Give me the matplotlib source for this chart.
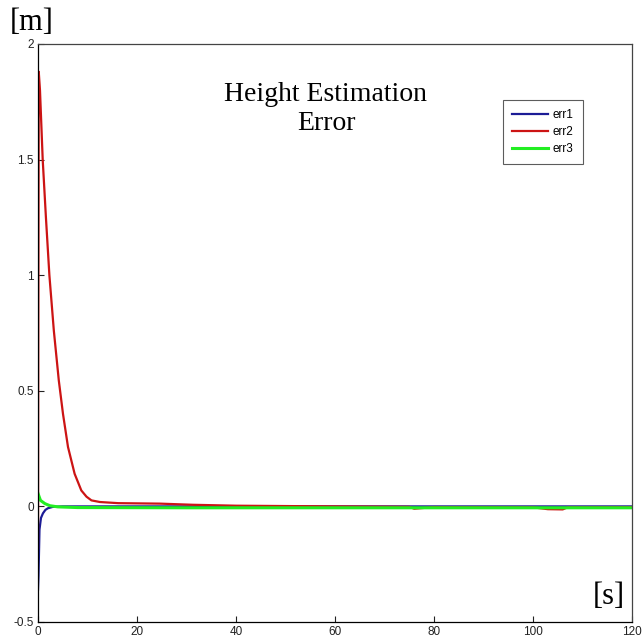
import matplotlib
matplotlib.use("Agg")
import matplotlib.pyplot as plt

# err1 (blue): starts negative, settles within a few seconds
t1 = [0.0, 0.1, 0.3, 0.6, 1.0, 1.5, 2.0, 3.0, 5.0, 20.0, 60.0, 120.0]
err1 = [-0.36, -0.30, -0.10, -0.05, -0.03, -0.015, -0.008, -0.002, 0.0, 0.0, 0.0, 0.0]

# err2 (red): jumps to ~1.9 then decays
t2 = [0.0, 0.05, 0.15, 0.4, 0.95, 1.6, 2.3, 3.2, 4.2, 5.05, 6.06, 7.4,
      8.75, 9.8, 10.8, 12.5, 16.2, 24.6, 31.3, 40.0, 60.0, 75.0, 76.0,
      80.0, 100.0, 103.0, 106.0, 107.0, 120.0]
err2 = [-0.18, 0.68, 1.88, 1.80, 1.50, 1.25, 1.00, 0.76, 0.545, 0.40, 0.257, 0.141,
        0.069, 0.042, 0.026, 0.019, 0.014, 0.012, 0.007, 0.003, 0.0, -0.002, -0.01,
        -0.003, -0.004, -0.012, -0.013, -0.004, -0.003]

# err3 (green): small positive start, settles slightly below zero
t3 = [0.0, 0.5, 1.4, 2.4, 4.0, 8.0, 30.0, 60.0, 90.0, 120.0]
err3 = [0.056, 0.026, 0.012, 0.003, -0.002, -0.005, -0.006, -0.006, -0.006, -0.006]

plt.rcParams['font.family'] = ['Liberation Sans', 'DejaVu Sans']

fig = plt.figure(figsize=(6.42, 6.39), dpi=100)
ax = fig.add_axes([38 / 642, 17 / 639, 594 / 642, 578 / 639])

ax.plot(t1, err1, color='#1c1c96', lw=1.6, label='err1')
ax.plot(t2, err2, color='#cc1414', lw=1.6, label='err2')
ax.plot(t3, err3, color='#22ee22', lw=2.2, label='err3')

ax.set_xlim(0, 120)
ax.set_ylim(-0.5, 2)
ax.set_xticks([0, 20, 40, 60, 80, 100, 120])
ax.set_yticks([-0.5, 0, 0.5, 1, 1.5, 2])
ax.set_yticklabels(['-0.5', '0', '0.5', '1', '1.5', '2'])
ax.tick_params(direction='in', length=4, width=0.8, labelsize=8.5,
               colors='#222222', pad=3)
for side in ['top', 'right']:
    ax.spines[side].set_color('#444444')
for sp in ax.spines.values():
    sp.set_linewidth(0.9)

leg = ax.legend(loc='upper left', bbox_to_anchor=(465 / 594, (622 - 100) / 578),
                fontsize=8.5, frameon=True, fancybox=False, handlelength=3.0,
                borderpad=0.8, labelspacing=0.4, handletextpad=0.4,
                borderaxespad=0)
leg.get_frame().set_edgecolor('#333333')
leg.get_frame().set_linewidth(0.8)

serif = ['Liberation Serif', 'DejaVu Serif']
fig.text(326 / 642, 1 - 109 / 639, 'Height Estimation\nError', ha='center',
         va='center', fontsize=20, family=serif, linespacing=1.2)
fig.text(32 / 642, 1 - 22 / 639, '[m]', ha='center', va='center',
         fontsize=22, family=serif)
fig.text(609 / 642, 1 - 597 / 639, '[s]', ha='center', va='center',
         fontsize=22, family=serif)

fig.savefig('out.png', dpi=100)
